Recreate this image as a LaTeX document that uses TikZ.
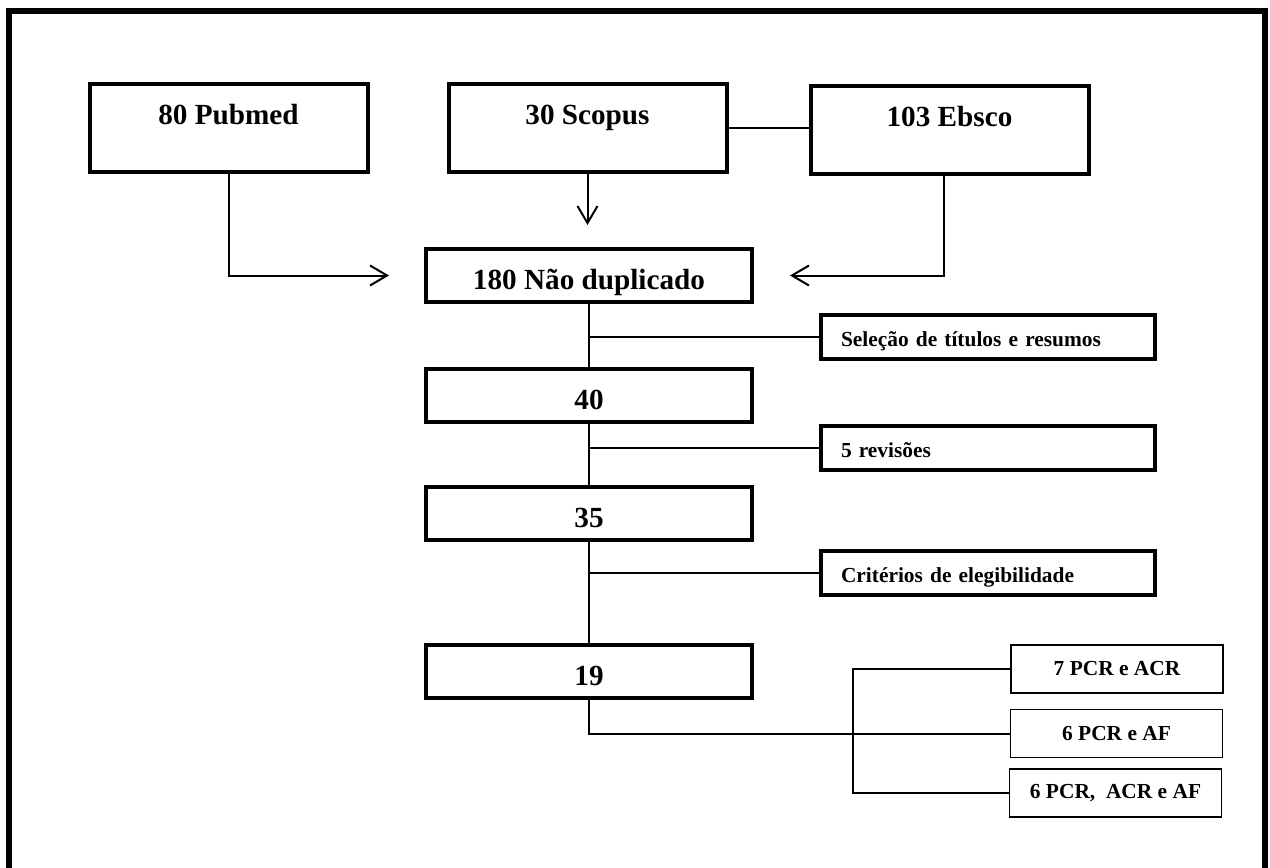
\documentclass[tikz,border=0pt]{standalone}
\usepackage{fontspec}
\setmainfont{Liberation Serif}
\usetikzlibrary{arrows.meta}
\definecolor{prInk}{HTML}{000000}
\tikzset{
  pr frame/.style={draw=prInk, line width=3pt},
  pr source/.style={draw=prInk, line width=2pt, minimum width=139pt, inner xsep=0pt, inner ysep=0pt, text height=20pt, text depth=24pt, font=\fontsize{14.6pt}{17pt}\selectfont\bfseries},
  pr stage/.style={draw=prInk, line width=2pt, minimum width=163pt, inner xsep=0pt, inner ysep=0pt, text height=20pt, text depth=6.5pt, font=\fontsize{14.6pt}{17pt}\selectfont\bfseries},
  pr filter/.style={draw=prInk, line width=2pt, inner xsep=10pt, inner ysep=0pt, text width=147pt, align=left, text height=15.75pt, text depth=6.25pt, font=\fontsize{10.7pt}{13pt}\selectfont\bfseries},
  pr result/.style={draw=prInk, line width=0.75pt, minimum width=106pt, minimum height=24pt, inner sep=0pt, font=\fontsize{10.7pt}{13pt}\selectfont\bfseries},
  pr link/.style={draw=prInk, line width=1pt},
  pr arrow/.style={pr link, -{Straight Barb[length=8.5pt,width=10pt]}},
}
\begin{document}
\begin{tikzpicture}[x=0.5pt,y=-0.5pt]
  \useasboundingbox (0,0) rectangle (1270,868);
  \draw[pr frame] (9,880) -- (9,11) -- (1264.5,11) -- (1264.5,880);

  \node[pr source] (pubmed) at (228.5,128) {80 Pubmed};
  \node[pr source] (scopus) at (587.5,128) {30 Scopus};
  \node[pr source] (ebsco) at (949.5,130) {103 Ebsco};

  \node[pr stage] (dup) at (589,275.5) {180 Não duplicado};
  \node[pr stage] (b40) at (589,395.5) {40};
  \node[pr stage] (b35) at (589,513.5) {35};
  \node[pr stage] (b19) at (589,671.5) {19};

  \node[pr filter] (sel) at (988,337) {Seleção de títulos e resumos};
  \node[pr filter] (rev) at (988,447.5) {5 revisões};
  \node[pr filter] (crit) at (988,573) {Critérios de elegibilidade};

  \node[pr result] (pcr1) at (1117,669) {7 PCR e ACR};
  \node[pr result] (pcr2) at (1116.5,733.5) {6 PCR e AF};
  \node[pr result] (pcr3) at (1115.5,793) {6 PCR,~ ACR e AF};
  \coordinate (fork) at (853,733.5);

  \draw[pr link] (scopus.east) -- (scopus.east -| ebsco.west);
  \draw[pr arrow, shorten >=17.5pt] (pubmed.south) |- (dup.west);
  \draw[pr arrow, shorten >=11pt] (scopus.south) -- (scopus.south |- dup.north);
  \draw[pr arrow, shorten >=18pt] ([xshift=-3pt]ebsco.south) |- (dup.east);

  \draw[pr link] (dup) -- (b40) -- (b35) -- (b19);
  \draw[pr link] (sel.west) -- (sel.west -| dup.south);
  \draw[pr link] (rev.west) -- (rev.west -| b40.south);
  \draw[pr link] (crit.west) -- (crit.west -| b35.south);

  \draw[pr link] (b19.south) |- (pcr2.west);
  \draw[pr link] (pcr1.west) -| (fork) |- (pcr3.west);
\end{tikzpicture}
\end{document}
